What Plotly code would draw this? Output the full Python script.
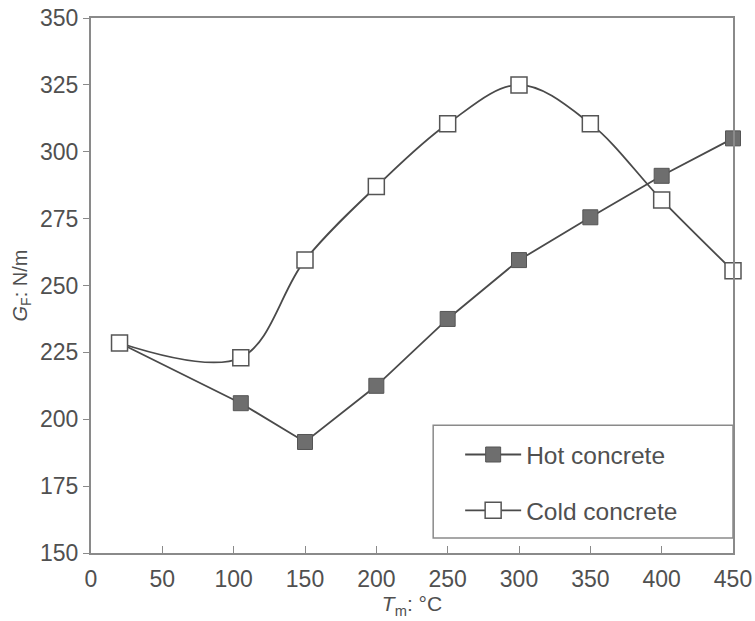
import plotly.graph_objects as go

temps = [20, 105, 150, 200, 250, 300, 350, 400, 450]
hot_concrete = [228.5, 206, 191.5, 212.5, 237.5, 259.5, 275.5, 291, 305]
cold_concrete = [228.5, 223, 259.5, 287, 310.5, 325, 310.5, 282, 255.5]

x_ticks = [0, 50, 100, 150, 200, 250, 300, 350, 400, 450]
y_ticks = [150, 175, 200, 225, 250, 275, 300, 325, 350]

LINE = "#4a4a4a"
AXIS = "#8a8a8a"
FONT = "Liberation Sans, Arial, sans-serif"

fig = go.Figure()
fig.add_trace(go.Scatter(
    x=temps, y=hot_concrete, name="Hot concrete", mode="lines+markers",
    legendgroup="hot", cliponaxis=False,
    line=dict(color=LINE, width=1.8),
    marker=dict(symbol="square", size=15, color="#6e6e6e",
                line=dict(color="#555555", width=1)),
))
fig.add_trace(go.Scatter(
    x=temps, y=cold_concrete, name="Cold concrete", mode="lines+markers",
    legendgroup="cold", cliponaxis=False,
    line=dict(color=LINE, width=1.8, shape="spline", smoothing=1.0),
    marker=dict(symbol="square", size=16, color="white",
                line=dict(color="#555555", width=1.5)),
))

# legend frame (paper coords of the plot area)
fig.add_shape(type="rect", xref="paper", yref="paper",
              x0=0.533, x1=1.0, y0=0.028, y1=0.239,
              line=dict(color=AXIS, width=1.5), fillcolor="white", layer="above")

fig.update_layout(
    width=755, height=621,
    margin=dict(l=91, r=22, t=18, b=68, autoexpand=False),
    paper_bgcolor="white", plot_bgcolor="white",
    font=dict(family=FONT, size=23, color="#505050"),
    showlegend=True,
    legend=dict(
        x=0.575, y=0.226, xanchor="left", yanchor="top",
        bgcolor="rgba(0,0,0,0)", borderwidth=0,
        font=dict(family=FONT, size=24.5, color="#505050"),
        tracegroupgap=21, itemwidth=56,
    ),
    xaxis=dict(
        range=[0, 450], tickvals=x_ticks, ticktext=[str(v) for v in x_ticks],
        showline=True, linecolor=AXIS, linewidth=2, mirror=True, automargin=False,
        ticks="inside", ticklen=7, tickcolor=AXIS, showgrid=False, zeroline=False,
        ticklabelstandoff=4, ticklabeloverflow="allow",
        title=dict(text="<i>T</i><sub>m</sub>: °C", font=dict(size=21), standoff=6),
    ),
    yaxis=dict(
        range=[150, 350], tickvals=y_ticks, ticktext=[str(v) for v in y_ticks],
        showline=True, linecolor=AXIS, linewidth=2, mirror=True, automargin=False,
        ticks="outside", ticklen=6, tickcolor=AXIS, showgrid=False, zeroline=False,
        ticklabeloverflow="allow",
        title=dict(text="<i>G</i><sub>F</sub>: N/m", font=dict(size=20), standoff=7),
    ),
)

fig.write_html(
    "out.html",
    config={"displayModeBar": False},
    post_script="document.body.style.margin='0';document.body.style.overflow='hidden';",
)
